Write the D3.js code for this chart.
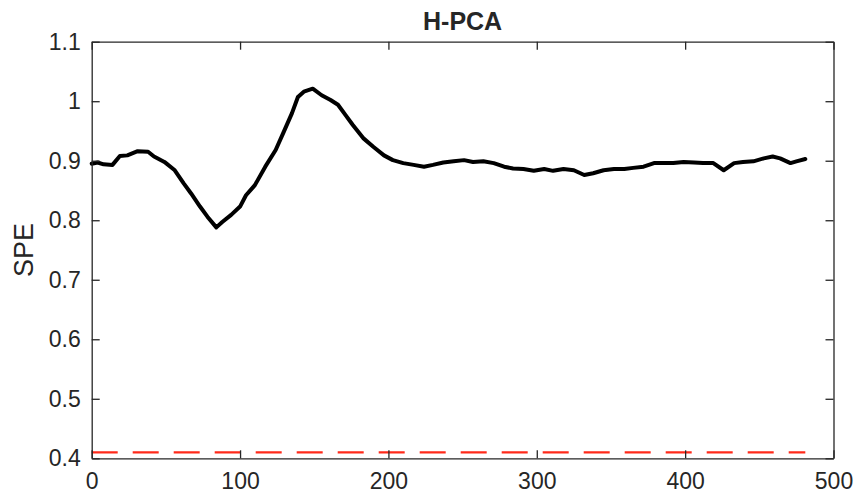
<!DOCTYPE html>
<html>
<head>
<meta charset="utf-8">
<script src="https://cdn.jsdelivr.net/npm/d3@7"></script>
<style>
body { margin:0; background:#fff; }
text { font-family: "Liberation Sans", Arial, sans-serif; fill:#262626; }
</style>
</head>
<body>
<div class="container"></div>
<script>
// sample index
var sampleIdx = [0, 4, 8, 14, 19, 24, 31, 38, 42, 49, 56, 62, 67, 73, 78, 84, 88, 94, 100, 104, 110,
	117, 124, 129, 135, 139, 143, 149, 155, 161, 166, 171, 176, 183, 190, 197, 203,
	210, 217, 224, 230, 237, 244, 251, 257, 264, 271, 278, 284, 291, 298, 305, 311, 318, 325, 332, 338,
	345, 352, 359, 365, 372, 379, 385, 392, 399, 406, 412, 419, 426, 433, 439, 446, 453, 459, 464, 471, 475, 481];
// SPE values
var speVals = [0.895, 0.897, 0.894, 0.893, 0.908, 0.909, 0.916, 0.915, 0.907, 0.898, 0.884, 0.862, 0.845, 0.823, 0.806, 0.788, 0.797, 0.809, 0.823, 0.842, 0.859,
	0.890, 0.918, 0.946, 0.980, 1.007, 1.016, 1.021, 1.010, 1.002, 0.994, 0.977, 0.960, 0.938, 0.923, 0.909, 0.901,
	0.896, 0.893, 0.890, 0.893, 0.897, 0.899, 0.901, 0.898, 0.899, 0.896, 0.890, 0.887, 0.886, 0.883, 0.886, 0.883, 0.886, 0.884, 0.876, 0.879,
	0.884, 0.886, 0.886, 0.888, 0.890, 0.896, 0.896, 0.896, 0.898, 0.897, 0.896, 0.896, 0.884, 0.896, 0.898, 0.899, 0.904, 0.907, 0.904, 0.896, 0.899, 0.903];
// control limit
var limitVal = 0.41;
var limitRange = [0, 481];

var xTicks = [0, 100, 200, 300, 400, 500];
var yTicks = [0.4, 0.5, 0.6, 0.7, 0.8, 0.9, 1, 1.1];

var W = 861, H = 500;
var plotL = 91.7, plotR = 833.5, plotT = 41.7, plotB = 458.3;

var svg = d3.select(".container").append("svg")
	.attr("width", W).attr("height", H);

var x = d3.scaleLinear().domain([0, 500]).range([plotL, plotR]);
var y = d3.scaleLinear().domain([0.4, 1.1]).range([plotB, plotT]);

// data line
var pts = sampleIdx.map(function(d, i) { return [d, speVals[i]]; });
var line = d3.line().x(function(d) { return x(d[0]); }).y(function(d) { return y(d[1]); });

svg.append("path")
	.datum(pts)
	.attr("d", line)
	.attr("fill", "none")
	.attr("stroke", "#000")
	.attr("stroke-width", 4)
	.attr("stroke-linejoin", "round")
	.attr("stroke-linecap", "round");

svg.append("line")
	.attr("x1", x(limitRange[0])).attr("x2", x(limitRange[1]))
	.attr("y1", y(limitVal)).attr("y2", y(limitVal))
	.attr("stroke", "#ff2a1a")
	.attr("stroke-width", 2.4)
	.attr("stroke-dasharray", "26,15");

// axes (box with ticks on all sides, pointing in)
var ax = "#262626";
var xb = svg.append("g").attr("transform", "translate(0," + plotB + ")")
	.call(d3.axisBottom(x).tickValues(xTicks).tickSizeInner(-8).tickSizeOuter(0).tickPadding(14).tickFormat(d3.format("d")));
var xt = svg.append("g").attr("transform", "translate(0," + plotT + ")")
	.call(d3.axisTop(x).tickValues(xTicks).tickSizeInner(-8).tickSizeOuter(0).tickFormat(""));
var yl = svg.append("g").attr("transform", "translate(" + plotL + ",0)")
	.call(d3.axisLeft(y).tickValues(yTicks).tickSizeInner(-8).tickSizeOuter(0).tickPadding(11).tickFormat(function(d) { return d3.format("~g")(d); }));
var yr = svg.append("g").attr("transform", "translate(" + plotR + ",0)")
	.call(d3.axisRight(y).tickValues(yTicks).tickSizeInner(-8).tickSizeOuter(0).tickFormat(""));

[xb, xt, yl, yr].forEach(function(g) {
	g.select(".domain").attr("stroke", ax).attr("stroke-width", 1.3);
	g.selectAll(".tick line").attr("stroke", ax).attr("stroke-width", 1.3);
	g.selectAll(".tick text").attr("font-size", 23).attr("fill", ax)
		.attr("font-family", "Liberation Sans, Arial, sans-serif");
});
xb.selectAll(".tick text").attr("dy", "0.71em");

svg.append("text")
	.attr("x", (plotL + plotR) / 2).attr("y", 30)
	.attr("text-anchor", "middle")
	.attr("font-size", 25).attr("font-weight", "bold")
	.attr("fill", "#000")
	.text("H-PCA");

svg.append("text")
	.attr("transform", "translate(33," + (plotT + plotB) / 2 + ") rotate(-90)")
	.attr("text-anchor", "middle")
	.attr("font-size", 27)
	.text("SPE");
</script>
</body>
</html>
